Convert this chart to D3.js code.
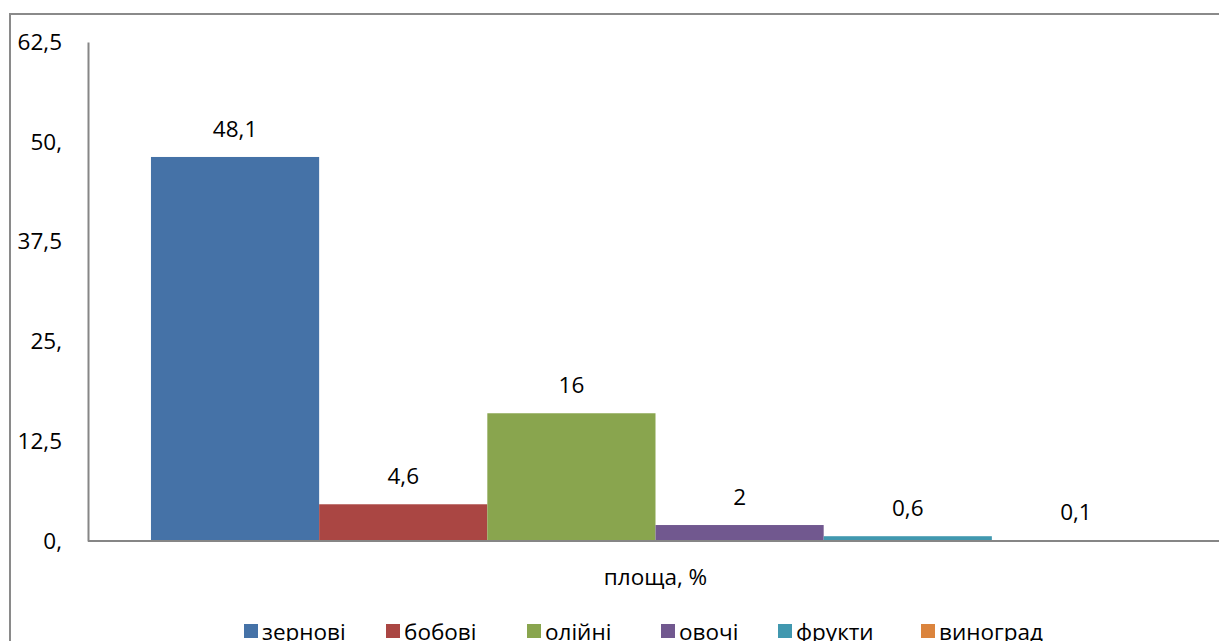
<!DOCTYPE html>
<meta charset="utf-8">
<head>
<style>
body { margin: 0; background: #fff; }
svg text { font-family: "Open Sans", "Liberation Sans", sans-serif; fill: #000; }
</style>
</head>
<body>
<svg width="1219" height="641"></svg>
<script src="https://d3js.org/d3.v7.min.js"></script>
<script>
// categories, values and colours
var categories = ["зернові", "бобові", "олійні", "овочі", "фрукти", "виноград"];
var values = [48.1, 4.6, 16, 2, 0.6, 0.1];
var labels = ["48,1", "4,6", "16", "2", "0,6", "0,1"];
var colors = ["#4572a7", "#aa4643", "#89a54e", "#71588f", "#4198af", "#db843d"];
var ticks = [0, 12.5, 25, 37.5, 50, 62.5];
var tickLabels = ["0,", "12,5", "25,", "37,5", "50,", "62,5"];
var seriesName = "площа, %";

var svg = d3.select("svg");

// outer chart border (runs past the right and bottom edges of the window)
svg.append("rect")
  .attr("x", 10).attr("y", 14)
  .attr("width", 1240).attr("height", 660)
  .attr("fill", "none")
  .attr("stroke", "#8a8a8a")
  .attr("stroke-width", 2);

var plotLeft = 88, plotRight = 1223, plotTop = 42, plotBottom = 541;
var fs = "22.5px";

var y = d3.scaleLinear().domain([0, 62.5]).range([plotBottom, plotTop]);

// one category group, six series bars inside it
var group = d3.scaleBand().domain([seriesName]).range([plotLeft, plotRight]).paddingInner(0).paddingOuter(0.0624);
var bw = group.bandwidth();
var inner = d3.scaleBand().domain(categories).range([group(seriesName), group(seriesName) + bw]);

svg.append("g")
  .selectAll("rect")
  .data(values)
  .enter().append("rect")
  .attr("x", function(d, i) { return inner(categories[i]); })
  .attr("width", inner.bandwidth())
  .attr("y", function(d) { return y(d); })
  .attr("height", function(d) { return plotBottom - y(d); })
  .attr("fill", function(d, i) { return colors[i]; });

// data labels
svg.append("g")
  .selectAll("text")
  .data(values)
  .enter().append("text")
  .attr("x", function(d, i) { return inner(categories[i]) + inner.bandwidth() / 2; })
  .attr("y", function(d) { return y(d) - 20; })
  .attr("text-anchor", "middle")
  .style("font-size", fs)
  .text(function(d, i) { return labels[i]; });

// y axis
var yAxis = d3.axisLeft(y)
  .tickValues(ticks)
  .tickSize(0)
  .tickPadding(26)
  .tickFormat(function(d, i) { return tickLabels[i]; });

var ya = svg.append("g")
  .attr("transform", "translate(" + plotLeft + ",0)")
  .call(yAxis);
ya.select(".domain").attr("stroke", "#868686").attr("stroke-width", 2);
ya.selectAll("text")
  .style("font-size", fs);
ya.attr("font-family", null).attr("font-size", null);

// x axis baseline
svg.append("line")
  .attr("x1", plotLeft).attr("x2", 1219)
  .attr("y1", plotBottom).attr("y2", plotBottom)
  .attr("stroke", "#868686").attr("stroke-width", 2);

// category label
svg.append("text")
  .attr("x", (plotLeft + plotRight) / 2)
  .attr("y", 585)
  .attr("text-anchor", "middle")
  .style("font-size", fs)
  .text(seriesName);

// legend
var legendX = [244, 386, 527, 661, 778, 921];
var legend = svg.append("g")
  .selectAll("g")
  .data(categories)
  .enter().append("g")
  .attr("transform", function(d, i) { return "translate(" + legendX[i] + ",624)"; });
legend.append("rect")
  .attr("width", 14).attr("height", 14)
  .attr("fill", function(d, i) { return colors[i]; });
legend.append("text")
  .attr("x", 18)
  .attr("y", 16)
  .style("font-size", fs)
  .text(function(d) { return d; });
</script>
</body>
